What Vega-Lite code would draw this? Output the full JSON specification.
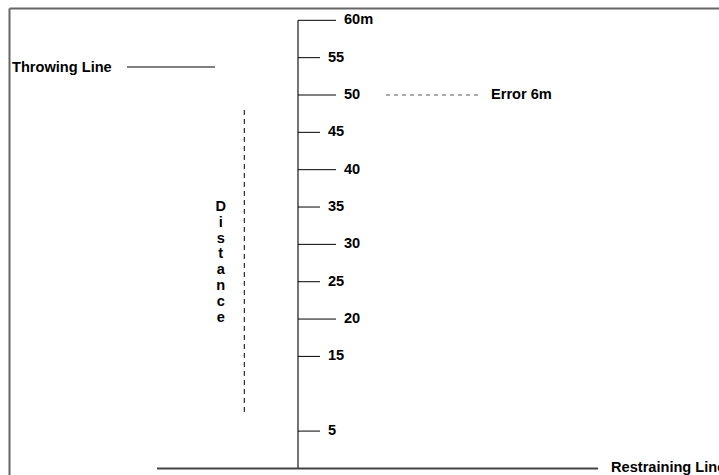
{
  "$schema": "https://vega.github.io/schema/vega-lite/v6.json",
  "width": 719,
  "height": 475,
  "padding": 0,
  "autosize": {"type": "none"},
  "config": {"view": {"stroke": null}, "axis": {"disable": true}},
  "datasets": {
    "rules": [
      {"kind": "border", "x": 9.5, "x2": 9.5, "y": -0.88, "y2": 61.58},
      {"kind": "border", "x": 9.5, "x2": 719, "y": 61.58, "y2": 61.58},
      {"kind": "axis", "x": 298, "x2": 298, "y": 0, "y2": 60},
      {"kind": "ground", "x": 157, "x2": 598, "y": 0, "y2": 0},
      {"kind": "tick", "x": 298, "x2": 336, "y": 60, "y2": 60, "label": "60m"},
      {"kind": "tick", "x": 298, "x2": 320, "y": 55, "y2": 55, "label": "55"},
      {"kind": "tick", "x": 298, "x2": 336, "y": 50, "y2": 50, "label": "50"},
      {"kind": "tick", "x": 298, "x2": 320, "y": 45, "y2": 45, "label": "45"},
      {"kind": "tick", "x": 298, "x2": 336, "y": 40, "y2": 40, "label": "40"},
      {"kind": "tick", "x": 298, "x2": 320, "y": 35, "y2": 35, "label": "35"},
      {"kind": "tick", "x": 298, "x2": 336, "y": 30, "y2": 30, "label": "30"},
      {"kind": "tick", "x": 298, "x2": 320, "y": 25, "y2": 25, "label": "25"},
      {"kind": "tick", "x": 298, "x2": 336, "y": 20, "y2": 20, "label": "20"},
      {"kind": "tick", "x": 298, "x2": 320, "y": 15, "y2": 15, "label": "15"},
      {"kind": "tick", "x": 298, "x2": 320, "y": 5, "y2": 5, "label": "5"},
      {"kind": "throw", "x": 127, "x2": 215, "y": 53.75, "y2": 53.75},
      {"kind": "distance", "x": 244.3, "x2": 244.3, "y": 7.56, "y2": 48.22},
      {"kind": "error", "x": 386, "x2": 480, "y": 50, "y2": 50}
    ],
    "texts": [
      {"x": 12, "y": 53.65, "label": "Throwing Line"},
      {"x": 491, "y": 50, "label": "Error 6m"},
      {"x": 611, "y": 0, "label": "Restraining Line"}
    ],
    "vertical": [
      {"x": 220.7, "y": 35.04, "label": "D\ni\ns\nt\na\nn\nc\ne"}
    ]
  },
  "encoding": {
    "x": {"field": "x", "type": "quantitative", "scale": {"domain": [0, 719], "nice": false, "zero": false}, "axis": null},
    "y": {"field": "y", "type": "quantitative", "scale": {"domain": [-0.88, 62.72], "nice": false, "zero": false}, "axis": null}
  },
  "layer": [
    {
      "data": {"name": "rules"},
      "transform": [{"filter": "datum.kind === 'border'"}],
      "mark": {"type": "rule", "color": "#666666", "strokeWidth": 2},
      "encoding": {"x2": {"field": "x2"}, "y2": {"field": "y2"}}
    },
    {
      "data": {"name": "rules"},
      "transform": [{"filter": "datum.kind === 'axis'"}],
      "mark": {"type": "rule", "color": "#444444", "strokeWidth": 1.5},
      "encoding": {"x2": {"field": "x2"}, "y2": {"field": "y2"}}
    },
    {
      "data": {"name": "rules"},
      "transform": [{"filter": "datum.kind === 'ground'"}],
      "mark": {"type": "rule", "color": "#444444", "strokeWidth": 2},
      "encoding": {"x2": {"field": "x2"}, "y2": {"field": "y2"}}
    },
    {
      "data": {"name": "rules"},
      "transform": [{"filter": "datum.kind === 'tick' || datum.kind === 'throw'"}],
      "mark": {"type": "rule", "color": "#000000", "strokeWidth": 1},
      "encoding": {"x2": {"field": "x2"}, "y2": {"field": "y2"}}
    },
    {
      "data": {"name": "rules"},
      "transform": [{"filter": "datum.kind === 'distance'"}],
      "mark": {"type": "rule", "color": "#000000", "strokeWidth": 1, "strokeDash": [5, 4]},
      "encoding": {"x2": {"field": "x2"}, "y2": {"field": "y2"}}
    },
    {
      "data": {"name": "rules"},
      "transform": [{"filter": "datum.kind === 'error'"}],
      "mark": {"type": "rule", "color": "#555555", "strokeWidth": 1, "strokeDash": [4, 4]},
      "encoding": {"x2": {"field": "x2"}, "y2": {"field": "y2"}}
    },
    {
      "data": {"name": "rules"},
      "transform": [{"filter": "datum.kind === 'tick'"}],
      "mark": {"type": "text", "align": "left", "baseline": "middle", "dx": 8, "font": "Liberation Sans", "fontWeight": "bold", "fontSize": 14.6, "color": "#000000"},
      "encoding": {"x": {"field": "x2", "type": "quantitative"}, "text": {"field": "label"}}
    },
    {
      "data": {"name": "texts"},
      "mark": {"type": "text", "align": "left", "baseline": "middle", "font": "Liberation Sans", "fontWeight": "bold", "fontSize": 14.6, "color": "#000000"},
      "encoding": {"text": {"field": "label"}}
    },
    {
      "data": {"name": "vertical"},
      "mark": {"type": "text", "align": "center", "baseline": "middle", "lineBreak": "\n", "lineHeight": 15.9, "font": "Liberation Sans", "fontWeight": "bold", "fontSize": 14.6, "color": "#000000"},
      "encoding": {"text": {"field": "label"}}
    }
  ]
}
